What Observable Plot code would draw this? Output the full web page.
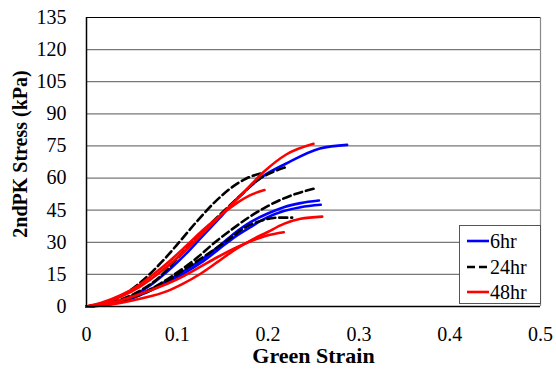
<!DOCTYPE html>
<html><head><meta charset="utf-8">
<script src="https://cdn.jsdelivr.net/npm/d3@7"></script>
<script src="https://cdn.jsdelivr.net/npm/@observablehq/plot@0.6"></script>
<style>
body{margin:0;background:#fff;}
#wrap{position:relative;width:556px;height:371px;}
#legend{position:absolute;left:459px;top:225px;width:82px;height:79px;border:1px solid #555;background:#fff;box-sizing:border-box;font-size:20px;color:#000;}
#legend, #chart svg text{font-family:"Liberation Serif","Times New Roman",Times,Tinos,"Nimbus Roman","Nimbus Roman No9 L","TeX Gyre Termes","DejaVu Serif","Noto Serif",FreeSerif,Georgia,"Bitstream Vera Serif","Noto Serif CJK SC","Noto Serif CJK JP",serif !important;font-variant:normal !important;}
.row{position:absolute;left:0;height:24px;display:flex;align-items:center;}
.row svg{margin-left:7px;margin-right:1px;}
</style>
</head><body>
<div id="wrap"><div id="chart"></div><div id="legend"></div></div>
<script>
// tick values / labels
const xTicks = [0, 0.1, 0.2, 0.3, 0.4, 0.5];
const xTickLabels = ["0", "0.1", "0.2", "0.3", "0.4", "0.5"];
const yTicks = [0, 15, 30, 45, 60, 75, 90, 105, 120, 135];
const seriesNames = ["6hr", "24hr", "48hr"];

// 6hr specimens: [Green strain, 2ndPK stress (kPa)]
const hr6_a = [[0,0],[0.018,0.9],[0.037,2.8],[0.055,5.9],[0.073,10.8],[0.092,17.5],[0.110,24.8],[0.128,33],[0.147,41.5],[0.165,50],[0.195,61],[0.22,66.8],[0.257,73.8],[0.287,75.5]];
const hr6_b = [[0,0],[0.02,0.8],[0.04,2.6],[0.0705,8],[0.107,16.5],[0.1256,21.5],[0.144,27.5],[0.1623,34],[0.1806,39.4],[0.199,43.3],[0.2173,46.4],[0.2357,48.3],[0.256,49.5]];
const hr6_c = [[0,0],[0.02,0.7],[0.04,2.3],[0.0705,7.4],[0.107,15.4],[0.1256,20.3],[0.144,26.2],[0.1623,32.2],[0.1806,37.1],[0.199,41.6],[0.2173,44.6],[0.2357,46.4],[0.258,47.5]];

// 24hr specimens
const hr24_a = [[0,0],[0.011,0.9],[0.029,3.1],[0.048,7.5],[0.066,13.7],[0.0844,21.5],[0.103,30.5],[0.121,39.5],[0.1395,48],[0.158,55],[0.176,59.8],[0.193,62.3]];
const hr24_b = [[0,0],[0.02,1.1],[0.04,3.6],[0.06,7.6],[0.08,13.6],[0.10,22.5],[0.122,32.5],[0.146,42.5],[0.170,52],[0.19,59.5],[0.205,62.8],[0.222,65.4]];
const hr24_c = [[0,0],[0.02,0.9],[0.04,2.8],[0.06,5.8],[0.081,10.6],[0.103,16.8],[0.121,22.5],[0.1395,29.3],[0.16,36],[0.18,42],[0.2,47],[0.225,51.8],[0.25,55]];
const hr24_d = [[0,0],[0.02,0.8],[0.04,2.7],[0.0705,7.6],[0.0925,12.9],[0.1145,19.2],[0.1366,25.4],[0.1586,32],[0.175,37],[0.1916,40],[0.21,41.5],[0.2265,41.5]];

// 48hr specimens
const hr48_a = [[0,0],[0.015,1.2],[0.037,4.4],[0.059,9.3],[0.081,16],[0.103,23.8],[0.121,31.2],[0.1395,39],[0.154,45.2],[0.1725,53],[0.195,62.8],[0.22,71],[0.25,76]];
const hr48_b = [[0,0],[0.018,2],[0.037,5.2],[0.055,9.2],[0.073,14.8],[0.092,21.4],[0.110,28.4],[0.128,35.6],[0.147,42.4],[0.165,48.2],[0.1836,52.6],[0.196,54.4]];
const hr48_c = [[0,0],[0.02,0.6],[0.04,1.9],[0.06,3.7],[0.0889,7.2],[0.107,10.8],[0.1256,15.3],[0.144,20.7],[0.1623,26.2],[0.1806,30.8],[0.199,34.7],[0.2173,38.6],[0.2357,41],[0.2596,42]];
const hr48_d = [[0,0],[0.02,1],[0.04,3.1],[0.0705,7.6],[0.0889,10.6],[0.107,14.2],[0.1256,18.6],[0.144,23],[0.1623,27],[0.1806,30.5],[0.199,33.2],[0.2173,34.7]];

const curves = [
  {id:"6a", group:"6hr", pts:hr6_a}, {id:"6b", group:"6hr", pts:hr6_b}, {id:"6c", group:"6hr", pts:hr6_c},
  {id:"24a", group:"24hr", pts:hr24_a}, {id:"24b", group:"24hr", pts:hr24_b}, {id:"24c", group:"24hr", pts:hr24_c}, {id:"24d", group:"24hr", pts:hr24_d},
  {id:"48a", group:"48hr", pts:hr48_a}, {id:"48b", group:"48hr", pts:hr48_b}, {id:"48c", group:"48hr", pts:hr48_c}, {id:"48d", group:"48hr", pts:hr48_d}
];
const styles = {
  "6hr": {stroke:"#0000ff", dash:null},
  "24hr": {stroke:"#000000", dash:"8,4"},
  "48hr": {stroke:"#ff0000", dash:null}
};

const rowsFor = g => curves.filter(c => c.group === g).flatMap(c => c.pts.map(([x, y]) => ({id:c.id, x, y})));
const lineMark = g => Plot.line(rowsFor(g), {
  x:"x", y:"y", z:"id", stroke: styles[g].stroke, strokeWidth:2.6,
  strokeDasharray: styles[g].dash ?? undefined, curve:"monotone-x"
});

const chart = Plot.plot({
  width:556, height:371,
  marginLeft:86, marginRight:16, marginTop:17, marginBottom:65,
  style:{fontSize:"20px", color:"#000", background:"#fff", overflow:"visible"},
  x:{domain:[0,0.5], ticks:xTicks, tickFormat:(d,i)=>xTickLabels[i], tickSize:0, tickPadding:20, label:null},
  y:{domain:[0,135], ticks:yTicks, tickSize:0, tickPadding:20, label:null},
  marks:[
    Plot.ruleY(yTicks.slice(1, -1), {stroke:"#777", strokeWidth:1.2}),
    Plot.ruleY([135], {stroke:"#000", strokeWidth:1.2}),
    Plot.ruleX([0.5], {stroke:"#888", strokeWidth:1.2}),
    lineMark("6hr"),
    lineMark("24hr"),
    lineMark("48hr"),
    Plot.ruleX([0], {stroke:"#000", strokeWidth:1.5}),
    Plot.ruleY([0], {stroke:"#000", strokeWidth:1.5}),
    Plot.text(["Green Strain"], {frameAnchor:"bottom", textAnchor:"middle", lineAnchor:"middle", dy:49, fontWeight:"bold", fontSize:22}),
    Plot.text(["2ndPK Stress (kPa)"], {frameAnchor:"left", textAnchor:"middle", lineAnchor:"middle", dx:-66, dy:-8, rotate:-90, fontWeight:"bold", fontSize:20})
  ]
});
document.getElementById("chart").appendChild(chart);

// legend
const legend = document.getElementById("legend");
const rowTops = [3, 29, 54];
seriesNames.forEach((name, i) => {
  const s = styles[name];
  const row = document.createElement("div");
  row.className = "row";
  row.style.top = rowTops[i] + "px";
  row.innerHTML = `<svg width="22" height="6"><line x1="0" y1="3" x2="22" y2="3" stroke="${s.stroke}" stroke-width="2.6" ${s.dash ? 'stroke-dasharray="8,4"' : ''}/></svg><span>${name}</span>`;
  legend.appendChild(row);
});
</script>
</body></html>
